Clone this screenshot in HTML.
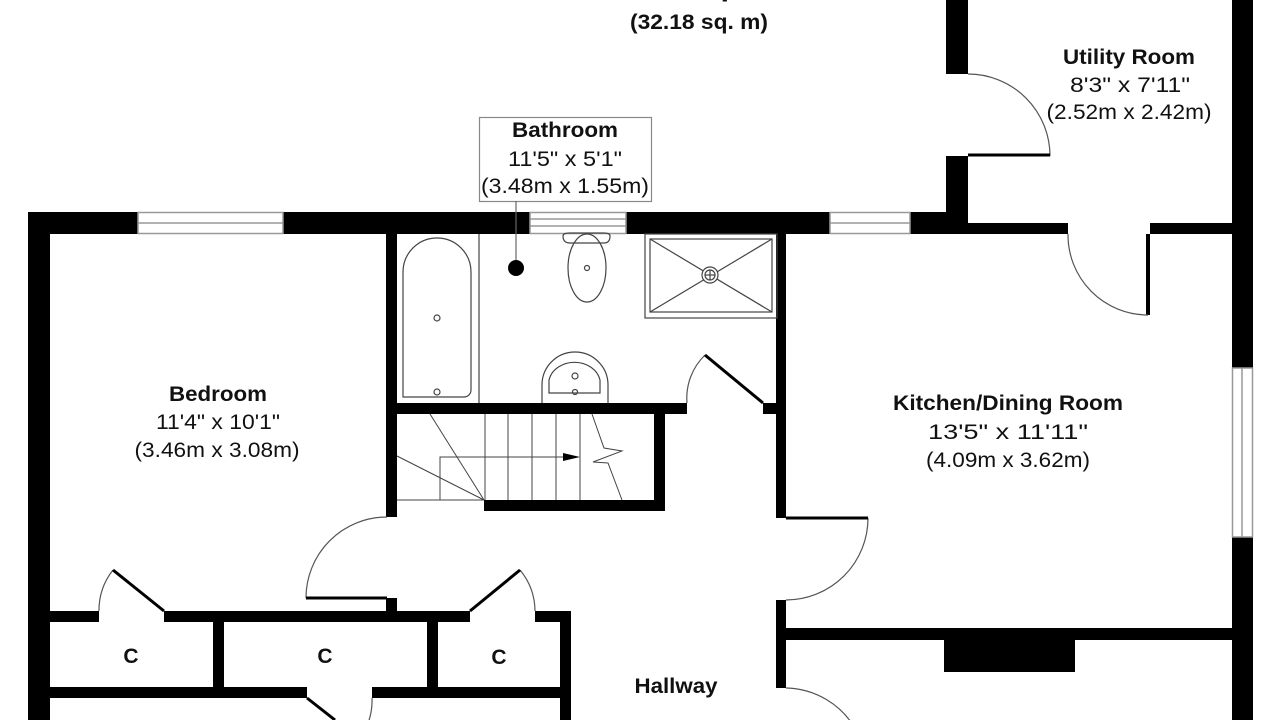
<!DOCTYPE html>
<html><head><meta charset="utf-8"><style>
html,body{margin:0;padding:0;background:#fff;width:1280px;height:720px;overflow:hidden}
svg{display:block}
text{font-family:"Liberation Sans",Arial,sans-serif;fill:#111;text-anchor:middle}
.b{font-weight:bold;font-size:21px}
.n{font-size:21px}
</style></head><body>
<svg width="1280" height="720" viewBox="0 0 1280 720" xmlns="http://www.w3.org/2000/svg">
<g fill="#000">
<rect x="28" y="212" width="110" height="22"/>
<rect x="283" y="212" width="247" height="22"/>
<rect x="626" y="212" width="204" height="22"/>
<rect x="910" y="212" width="58" height="22"/>
<rect x="28" y="212" width="22" height="508"/>
<rect x="946" y="0" width="22" height="74"/>
<rect x="946" y="156" width="22" height="78"/>
<rect x="968" y="223" width="100" height="11"/>
<rect x="1150" y="223" width="84" height="11"/>
<rect x="1146" y="234" width="4" height="81"/>
<rect x="1232" y="0" width="21" height="368"/>
<rect x="1232" y="537" width="21" height="183"/>
<rect x="776" y="234" width="10" height="284"/>
<rect x="776" y="600" width="10" height="88"/>
<rect x="786" y="628" width="446" height="12"/>
<rect x="944" y="640" width="131" height="32"/>
<rect x="386" y="234" width="11" height="283"/>
<rect x="386" y="598" width="11" height="14"/>
<rect x="386" y="403" width="301" height="11"/>
<rect x="763" y="403" width="13" height="11"/>
<rect x="654" y="414" width="11" height="97"/>
<rect x="484" y="500" width="181" height="11"/>
<rect x="50" y="611" width="49" height="11"/>
<rect x="164" y="611" width="306" height="11"/>
<rect x="535" y="611" width="36" height="11"/>
<rect x="560" y="611" width="11" height="109"/>
<rect x="213" y="622" width="11" height="65"/>
<rect x="427" y="622" width="11" height="65"/>
<rect x="50" y="687" width="257" height="11"/>
<rect x="372" y="687" width="199" height="11"/>
</g>
<g fill="#fff" stroke="#999" stroke-width="1.5">
<rect x="138" y="212.5" width="145" height="21"/><line x1="138" y1="223" x2="283" y2="223"/>
<rect x="530" y="212.5" width="96" height="21"/><line x1="530" y1="219" x2="626" y2="219"/><line x1="530" y1="226" x2="626" y2="226"/>
<rect x="830" y="212.5" width="80" height="21"/><line x1="830" y1="223" x2="910" y2="223"/>
<rect x="1232.5" y="368" width="20" height="169"/><line x1="1242" y1="368" x2="1242" y2="537"/>
</g>
<g fill="none" stroke="#555" stroke-width="1.2">
<path d="M968 74 A82 82 0 0 1 1050 156"/>
<path d="M1068 234 A80 80 0 0 0 1148 315"/>
<path d="M868 518 A82 82 0 0 1 786 600"/>
<path d="M786 688 A82 82 0 0 1 856 730"/>
<path d="M387 517 A81 81 0 0 0 306 598"/>
<path d="M99 611 A65 65 0 0 1 113 570"/>
<path d="M535 611 A65 65 0 0 0 520 570"/>
<path d="M372 698 A65 65 0 0 1 365 730"/>
<path d="M687 403 A60 60 0 0 1 705 355"/>
</g>
<g stroke="#000" stroke-width="3" fill="none">
<line x1="968" y1="155" x2="1050" y2="155"/>
<line x1="786" y1="518" x2="868" y2="518"/>
<line x1="306" y1="598" x2="387" y2="598"/>
<line x1="164" y1="611" x2="113" y2="570"/>
<line x1="470" y1="611" x2="520" y2="570"/>
<line x1="307" y1="698" x2="335" y2="720"/>
<line x1="705" y1="355" x2="763" y2="403"/>
</g>
<g fill="none" stroke="#444" stroke-width="1.2">
<path d="M403 397 L403 272 A34 34 0 0 1 471 272 L471 390 A7 7 0 0 1 464 397 Z"/>
<line x1="479" y1="234" x2="479" y2="403"/>
<circle cx="437" cy="318" r="3"/>
<circle cx="437" cy="392" r="3"/>
<path d="M563 236 Q563 243 570 243 L604 243 Q610 243 610 236 Q610 233 604 233 L570 233 Q563 233 563 236Z"/>
<ellipse cx="587" cy="268" rx="19" ry="34"/>
<circle cx="587" cy="268" r="2.5"/>
<rect x="645" y="234" width="132" height="84"/>
<rect x="650" y="239" width="122" height="73"/>
<line x1="650" y1="239" x2="772" y2="312"/><line x1="772" y1="239" x2="650" y2="312"/>
<circle cx="710" cy="275" r="8" fill="#fff"/><circle cx="710" cy="275" r="5"/>
<line x1="705" y1="275" x2="715" y2="275"/><line x1="710" y1="270" x2="710" y2="280"/>
<path d="M542 403 L542 385 A33 33 0 0 1 608 385 L608 403"/>
<path d="M549 393 L549 380 A26 22 0 0 1 600 380 L600 393 Z"/>
<circle cx="575" cy="376" r="3"/>
<circle cx="575" cy="392" r="2.5"/>
<rect x="479.5" y="117.5" width="172" height="84" stroke="#888"/>
<line x1="516" y1="201" x2="516" y2="266" stroke="#666"/>
</g>
<circle cx="516" cy="268" r="8" fill="#000"/>
<g fill="none" stroke="#444" stroke-width="1">
<line x1="485" y1="414" x2="485" y2="500"/>
<line x1="508" y1="414" x2="508" y2="500"/>
<line x1="532" y1="414" x2="532" y2="500"/>
<line x1="556" y1="414" x2="556" y2="500"/>
<line x1="580" y1="414" x2="580" y2="500"/>
<line x1="430" y1="414" x2="484" y2="500"/>
<line x1="397" y1="456" x2="484" y2="500"/>
<line x1="397" y1="500" x2="484" y2="500"/>
<polyline points="440,500 440,457 566,457"/>
<polyline points="592,414 604,448 622,451 593,462 608,463 622,500"/>
</g>
<polygon points="563,453 580,457 563,461" fill="#000"/>
<text x="698" y="-3" class="b" textLength="138" lengthAdjust="spacingAndGlyphs">346 Sq. ft</text>
<text x="699" y="29" class="b" textLength="138" lengthAdjust="spacingAndGlyphs">(32.18 sq. m)</text>
<text x="1129" y="64" class="b" textLength="132" lengthAdjust="spacingAndGlyphs">Utility Room</text>
<text x="1130" y="92" class="n" textLength="120" lengthAdjust="spacingAndGlyphs">8'3" x 7'11"</text>
<text x="1129" y="119" class="n" textLength="165" lengthAdjust="spacingAndGlyphs">(2.52m x 2.42m)</text>
<text x="565" y="137" class="b" textLength="106" lengthAdjust="spacingAndGlyphs">Bathroom</text>
<text x="565" y="166" class="n" textLength="114" lengthAdjust="spacingAndGlyphs">11'5" x 5'1"</text>
<text x="565" y="193" class="n" textLength="168" lengthAdjust="spacingAndGlyphs">(3.48m x 1.55m)</text>
<text x="218" y="401" class="b" textLength="98" lengthAdjust="spacingAndGlyphs">Bedroom</text>
<text x="218" y="429" class="n" textLength="124" lengthAdjust="spacingAndGlyphs">11'4" x 10'1"</text>
<text x="217" y="457" class="n" textLength="165" lengthAdjust="spacingAndGlyphs">(3.46m x 3.08m)</text>
<text x="1008" y="410" class="b" textLength="230" lengthAdjust="spacingAndGlyphs">Kitchen/Dining Room</text>
<text x="1008" y="439" class="n" textLength="160" lengthAdjust="spacingAndGlyphs">13'5" x 11'11"</text>
<text x="1008" y="467" class="n" textLength="164" lengthAdjust="spacingAndGlyphs">(4.09m x 3.62m)</text>
<text x="131" y="663" class="b">C</text>
<text x="325" y="663" class="b">C</text>
<text x="499" y="664" class="b">C</text>
<text x="676" y="693" class="b" textLength="83" lengthAdjust="spacingAndGlyphs">Hallway</text>
</svg>
</body></html>
